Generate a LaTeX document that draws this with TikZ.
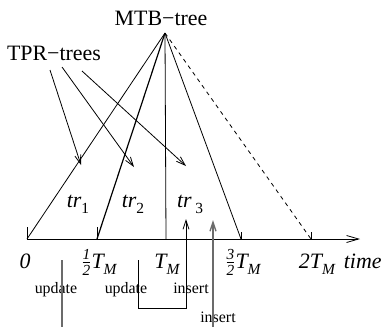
\documentclass[tikz,border=0pt]{standalone}
\usepackage{amsmath}
\usepackage{fontspec}
\setmainfont{Liberation Serif}
\usetikzlibrary{arrows.meta}
\newcommand{\sbs}[1]{\raisebox{-0.28em}{\fontsize{15.5}{16}\selectfont\itshape #1}}
\newcommand{\sbu}[1]{\raisebox{-0.28em}{\fontsize{15.5}{16}\selectfont\upshape #1}}
\newcommand{\hfr}[2]{$\frac{\text{\itshape #1}}{\text{\itshape #2}}$}
\begin{document}
\begin{tikzpicture}[x=1bp,y=-1bp,line width=0.8bp,
  arr/.style={-{Straight Barb[length=9bp,width=6bp]}},
  axarr/.style={-{Straight Barb[length=12bp,width=7bp]}},
  big/.style={font=\fontsize{22}{24}\selectfont,inner sep=0pt,anchor=base},
  smalltext/.style={font=\fontsize{16}{18}\selectfont,inner sep=0pt,anchor=base},
  grayln/.style={draw=black!58,line width=1.4bp}]
\useasboundingbox (0,0) rectangle (383,327);
% points
\coordinate (apex) at (165,33);
\coordinate (a0) at (27,239);
\coordinate (ah) at (97,239);
\coordinate (a1) at (166,239);
\coordinate (a3h) at (241,239);
\coordinate (a2) at (311,239);
\coordinate (aend) at (360,239);
% titles
\node[big] (mtb) at (161,25) {MTB−tree};
\node[big] (tpr) at (54,60) {TPR−trees};
% axis and ticks
\draw[axarr] (a0) -- (aend);
\draw (a0) -- ++(0,-12);
\draw (ah) -- ++(0,-12);
\draw (a3h) -- ++(0,-7);
\draw (a2) -- ++(0,-7);
% triangles
\draw (apex) -- (a0);
\draw[line width=1.2bp] (apex) -- (ah);
\draw (apex) -- (a1);
\draw (apex) -- (a3h);
\draw[dashed,dash pattern=on 4bp off 4bp] (apex) -- (a2);
% TPR arrows
\coordinate (s1) at (50,70);
\coordinate (s2) at (62,67);
\coordinate (s3) at (82,71);
\coordinate (e1) at (81,165);
\coordinate (e2) at (134,167);
\coordinate (e3) at (186,166);
\draw[arr] (s1) -- (e1);
\draw[arr] (s2) -- (e2);
\draw[arr] (s3) -- (e3);
% tree labels
\node[big] (tr1) at (78,207) {\itshape tr\sbu{1}};
\node[big] (tr2) at (133,207) {\itshape tr\sbu{2}};
\node[big] (tr3) at (190,207) {\itshape tr\,\sbu{3}};
% tick labels
\node[big] (l0) at (25,268) {\itshape 0};
\node[big] (lh) at (99,268) {\hfr{1}{2}\itshape T\sbs{M}};
\node[big] (l1) at (167,268) {\itshape T\sbs{M}};
\node[big] (l3h) at (243,268) {\hfr{3}{2}\itshape T\sbs{M}};
\node[big] (l2) at (317,268) {\itshape 2T\sbs{M}};
\node[big,anchor=base east] (ltime) at (382,268) {\itshape time};
% bottom labels
\node[smalltext] (u1) at (56,293) {update};
\node[smalltext] (u2) at (126,293) {update};
\node[smalltext] (i1) at (191,293) {insert};
\node[smalltext] (i2) at (218,322) {insert};
% bottom lines
\coordinate (g1t) at (62,260);
\coordinate (g1b) at (62,327);
\draw[grayln] (g1t) -- (g1b);
\coordinate (g2b) at (213,327);
\coordinate (g2t) at (213,220);
\draw[grayln,arr] (g2b) -- (g2t);
\coordinate (p1) at (138,260);
\coordinate (p2) at (138,308);
\coordinate (p3) at (186,308);
\coordinate (p4) at (186,219);
\draw[arr] (p1) -- (p2) -- (p3) -- (p4);
\end{tikzpicture}
\end{document}
